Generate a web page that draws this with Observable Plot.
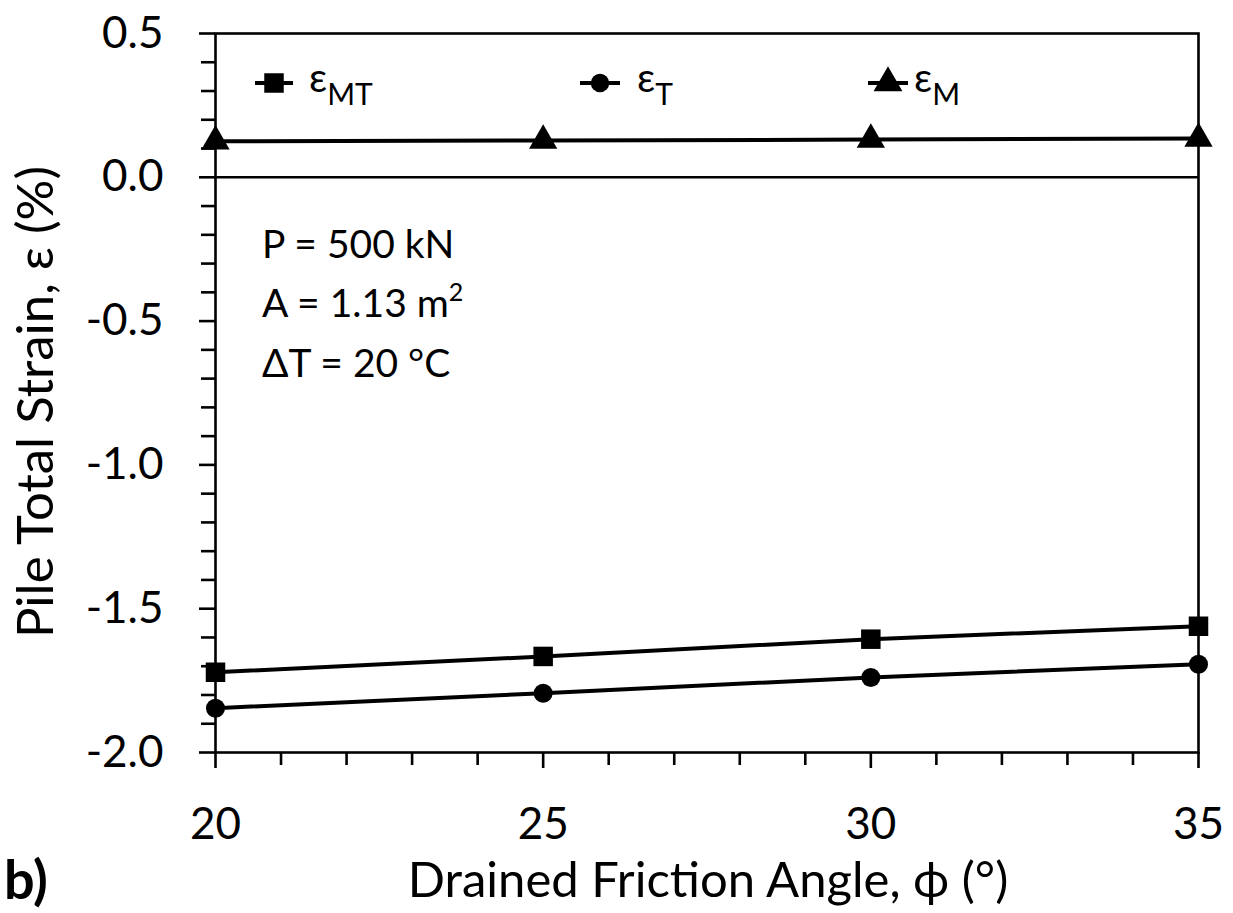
<!DOCTYPE html>
<html>
<head>
<meta charset="utf-8">
<script src="https://cdn.jsdelivr.net/npm/d3@7"></script>
<script src="https://cdn.jsdelivr.net/npm/@observablehq/plot@0.6"></script>
<style>
  html, body { margin: 0; padding: 0; background: #fff; }
  #chart svg { display: block; }
</style>
</head>
<body>
<div id="chart"></div>
<script>
// ---- data ----
const frictionAngle = [20, 25, 30, 35];
const strainMT = [-1.721, -1.666, -1.606, -1.561];
const strainT  = [-1.846, -1.794, -1.739, -1.693];
const strainM  = [0.125, 0.128, 0.131, 0.135];
const seriesNames = ["εMT", "εT", "εM"];
const xTicks = [20, 25, 30, 35];
const xMinorTicks = [21, 22, 23, 24, 26, 27, 28, 29, 31, 32, 33, 34];
const yTicks = [-2.0, -1.5, -1.0, -0.5, 0.0, 0.5];
const yMinorTicks = [-1.9, -1.8, -1.7, -1.6, -1.4, -1.3, -1.2, -1.1, -0.9, -0.8, -0.7, -0.6,
                     -0.4, -0.3, -0.2, -0.1, 0.1, 0.2, 0.3, 0.4];
const annotationLines = ["P = 500 kN", "A = 1.13 m", "ΔT = 20 °C"];
const legendSubscripts = ["MT", "T", "M"];

const rows = [];
[strainMT, strainT, strainM].forEach((vals, s) => {
  vals.forEach((v, i) => rows.push({series: seriesNames[s], x: frictionAngle[i], y: v}));
});
const bySeries = name => rows.filter(d => d.series === name);

const FONT = "Lato, 'Open Sans', sans-serif";

const plot = Plot.plot({
  width: 1233,
  height: 913,
  marginLeft: 215,
  marginRight: 35,
  marginTop: 33,
  marginBottom: 161,
  style: {fontFamily: FONT, background: "#fff", color: "#000"},
  x: {domain: [20, 35]},
  y: {domain: [-2.0, 0.5]},
  marks: [
    Plot.frame({stroke: "#000", strokeWidth: 2.6}),
    Plot.ruleY([0], {stroke: "#000", strokeWidth: 2.6}),
    Plot.axisX(xMinorTicks, {tickSize: 13, strokeWidth: 2.6, text: null, label: null}),
    Plot.axisX(xTicks, {tickSize: 16, strokeWidth: 2.6, tickPadding: 39, fontSize: 44,
      tickFormat: d => String(d), label: null}),
    Plot.axisY(yMinorTicks, {tickSize: 14, strokeWidth: 2.6, text: null, label: null}),
    Plot.axisY(yTicks, {tickSize: 16, strokeWidth: 2.6, tickPadding: 36, fontSize: 44,
      tickFormat: d => d.toFixed(1), label: null}),
    Plot.line(rows, {x: "x", y: "y", z: "series", stroke: "#000", strokeWidth: 4}),
    Plot.dot(bySeries("εMT"), {x: "x", y: "y", symbol: "square", r: 11, fill: "#000"}),
    Plot.dot(bySeries("εT"), {x: "x", y: "y", symbol: "circle", r: 9.5, fill: "#000"}),
    Plot.dot(bySeries("εM"), {x: "x", y: "y", symbol: "triangle", r: 10.5, fill: "#000"})
  ]
});
document.getElementById("chart").appendChild(plot);

const svg = d3.select(plot);

// annotation
const annY = [258, 317, 377];
const ann = svg.append("g").attr("font-family", FONT).attr("font-size", 39)
  .attr("fill", "#000").attr("text-anchor", "start");
annotationLines.forEach((t, i) => {
  const txt = ann.append("text").attr("x", 262).attr("y", annY[i]).text(t);
  if (i === 1) txt.append("tspan").attr("font-size", 25).attr("dy", -16).text("2");
});

// legend
const legendItems = [
  {sym: d3.symbolSquare, size: 380, x0: 255, x1: 293, tx: 309},
  {sym: d3.symbolCircle, size: 270, x0: 580, x1: 620, tx: 637},
  {sym: d3.symbolTriangle, size: 360, x0: 868, x1: 908, tx: 914}
];
const lg = svg.append("g").attr("font-family", FONT).attr("text-anchor", "start");
legendItems.forEach((it, k) => {
  const y = 83;
  lg.append("line").attr("x1", it.x0).attr("x2", it.x1).attr("y1", y).attr("y2", y)
    .attr("stroke", "#000").attr("stroke-width", 4);
  lg.append("path").attr("d", d3.symbol(it.sym, it.size)())
    .attr("transform", `translate(${(it.x0 + it.x1) / 2},${y})`).attr("fill", "#000");
  const t = lg.append("text").attr("x", it.tx).attr("y", 92)
    .attr("font-size", 40).attr("fill", "#000").text("ε");
  t.append("tspan").attr("font-size", 30).attr("dy", 13).text(legendSubscripts[k]);
});

// axis titles
svg.append("text").attr("font-family", FONT).attr("font-size", 49).attr("fill", "#000")
  .attr("text-anchor", "middle").attr("x", 708).attr("y", 897)
  .text("Drained Friction Angle, ϕ (°)");
svg.append("text").attr("font-family", FONT).attr("font-size", 51).attr("fill", "#000")
  .attr("text-anchor", "middle").attr("transform", "translate(53,402) rotate(-90)")
  .text("Pile Total Strain, ε (%)");
svg.append("text").attr("font-family", FONT).attr("font-size", 54).attr("font-weight", "bold")
  .attr("text-anchor", "start")
  .attr("fill", "#000").attr("x", 4).attr("y", 899).text("b)");
</script>
</body>
</html>
